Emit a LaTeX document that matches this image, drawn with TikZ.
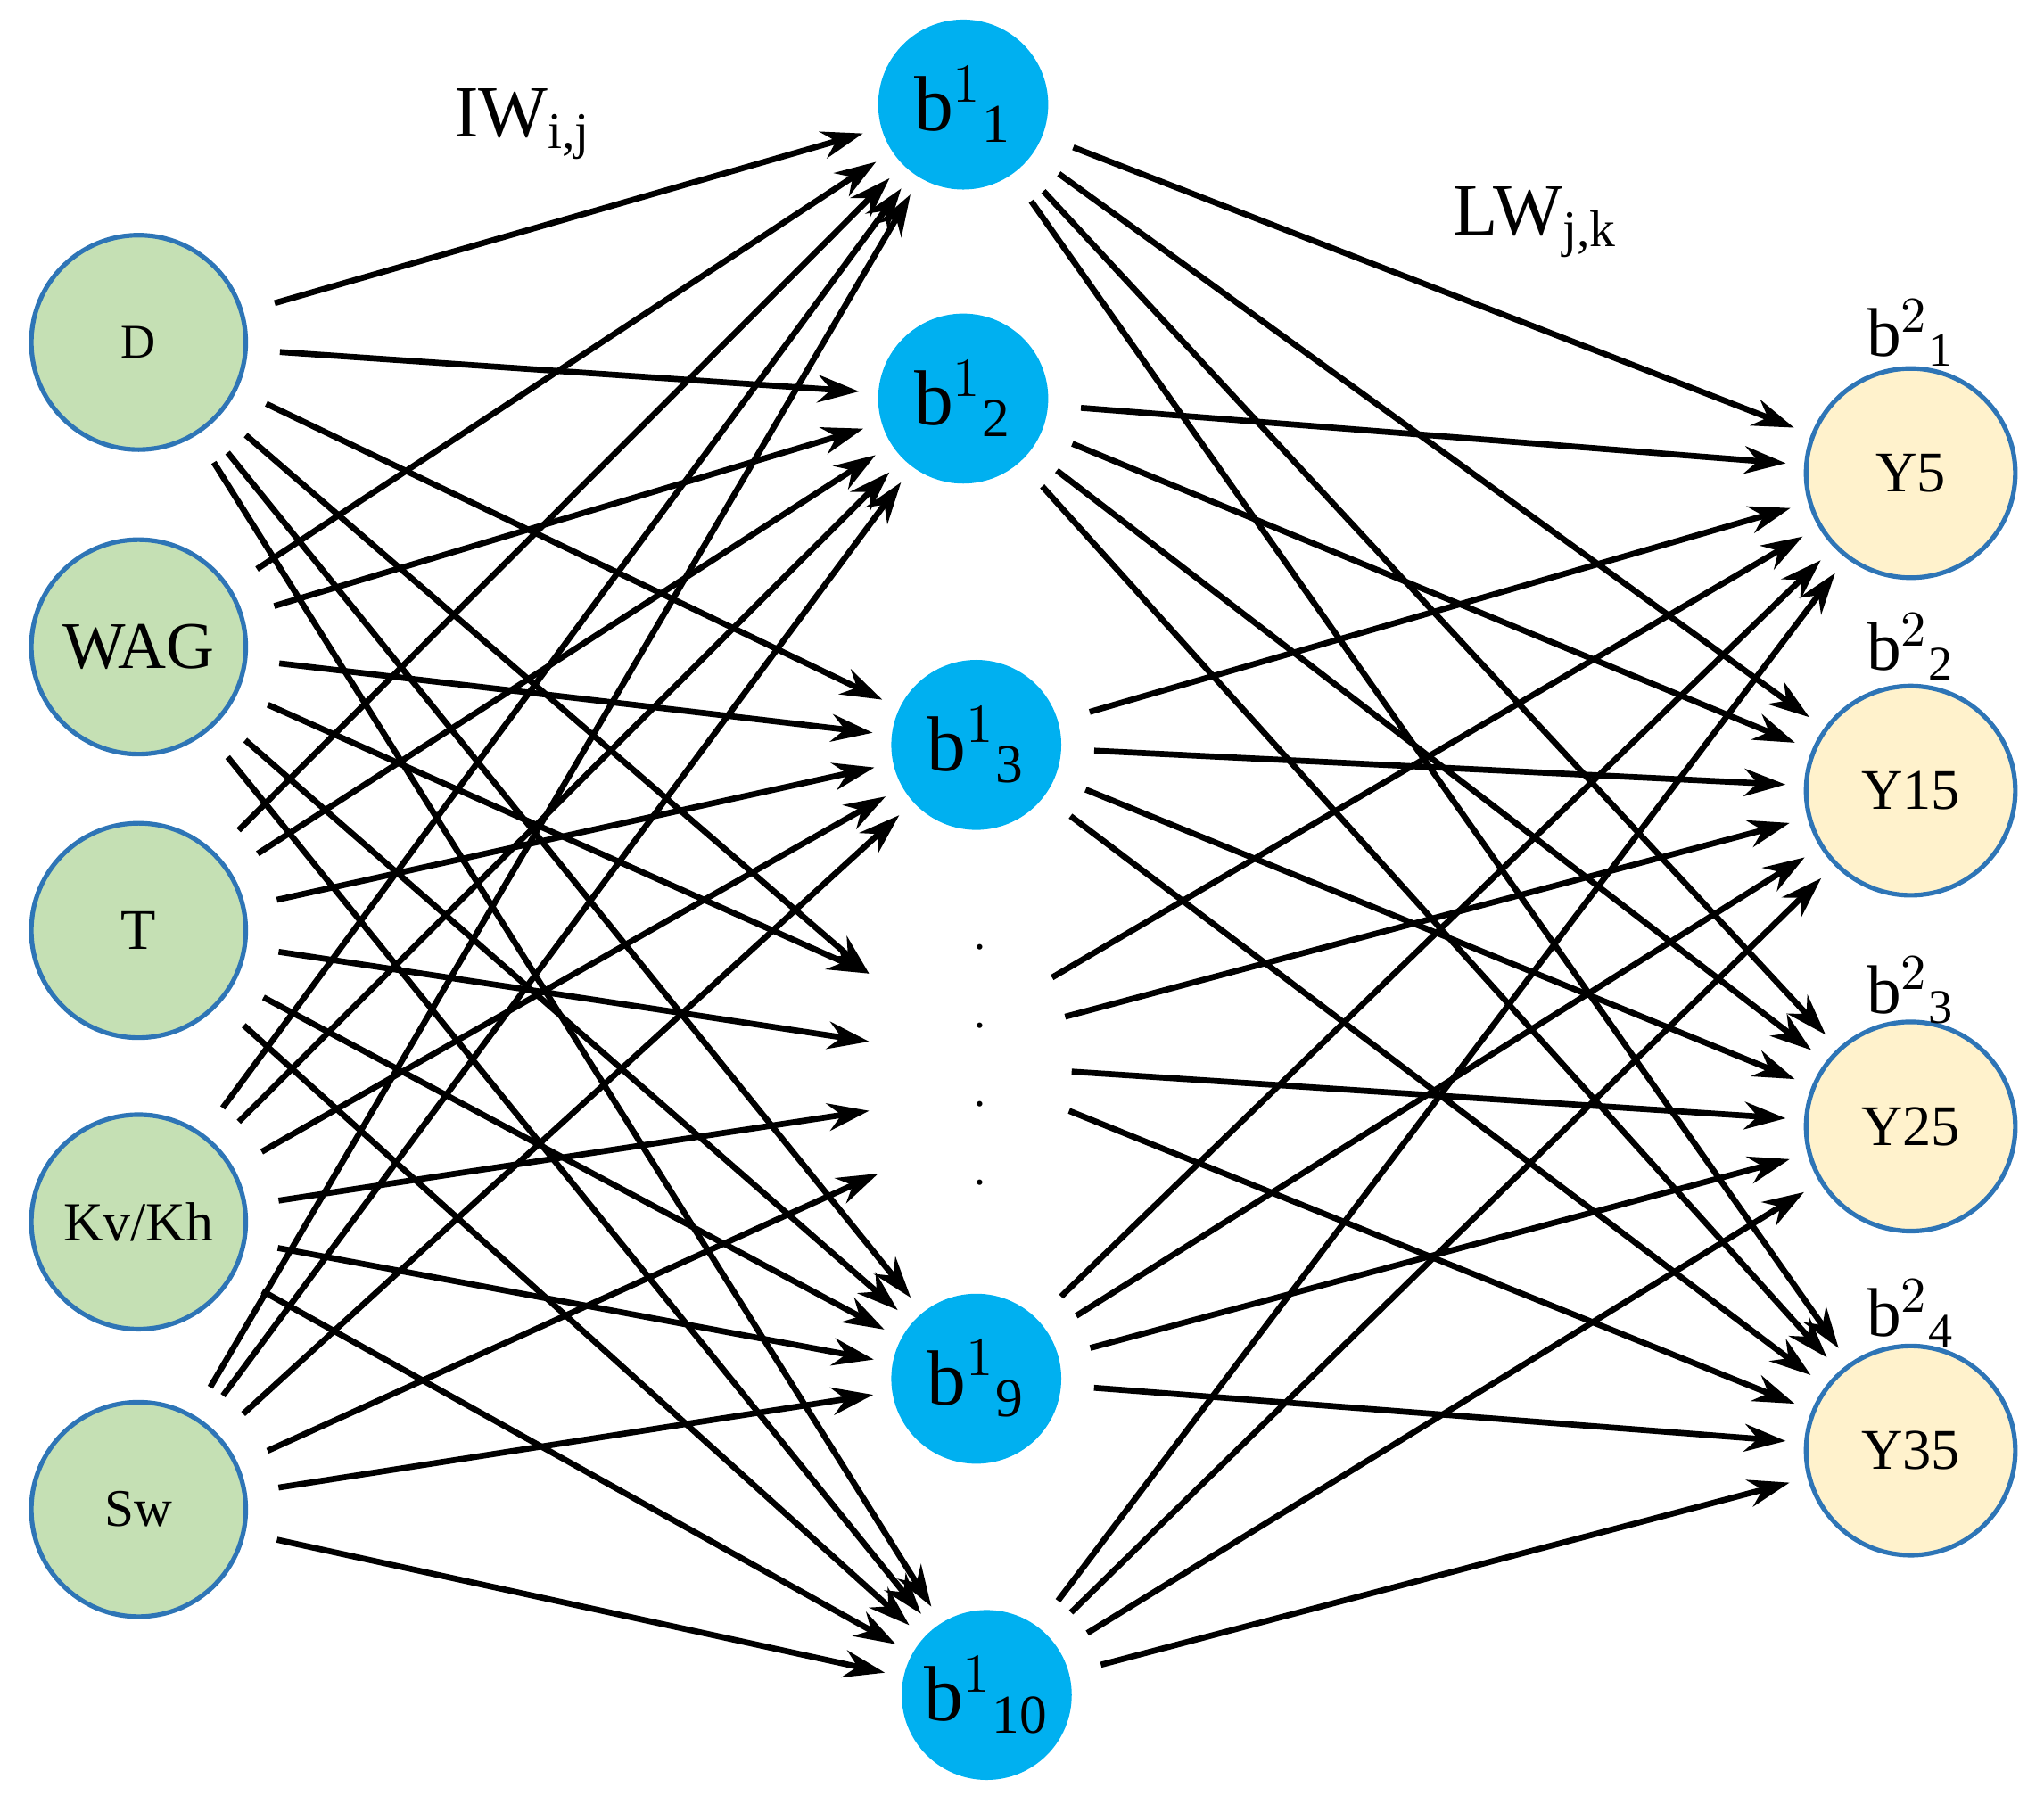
\documentclass[tikz,border=0pt]{standalone}
\usepackage{fontspec}
\setmainfont{Liberation Serif}
\usetikzlibrary{arrows.meta}
\definecolor{gr}{RGB}{197,224,180}
\definecolor{bd}{RGB}{46,117,182}
\definecolor{hb}{RGB}{0,176,240}
\definecolor{cr}{RGB}{255,242,204}
\begin{document}
\begin{tikzpicture}[x=0.01cm,y=-0.01cm,
  inp/.style={circle,fill=gr,draw=bd,line width=1pt,minimum size=1.64cm,inner sep=0pt},
  hid/.style={circle,fill=hb,minimum size=1.3cm,inner sep=0pt,font=\fontsize{17}{19}\selectfont},
  outn/.style={circle,fill=cr,draw=bd,line width=1pt,minimum size=1.6cm,inner sep=0pt,font=\fontsize{12.5}{15}\selectfont},
  ar/.style={line width=1.3pt,-{Stealth[length=9pt,width=6pt]},shorten <=7pt,shorten >=4pt}]
\useasboundingbox (0,0) rectangle (1564,1374);
\node[inp,font=\fontsize{10.5}{13}\selectfont] (i1) at (106,262) {D};
\node[inp,font=\fontsize{14.5}{17}\selectfont] (i2) at (106,495) {WAG};
\node[inp,font=\fontsize{12.5}{15}\selectfont] (i3) at (106,712) {T};
\node[inp,font=\fontsize{12}{15}\selectfont] (i4) at (106,935) {Kv/Kh};
\node[inp,font=\fontsize{11.5}{14}\selectfont] (i5) at (106,1155) {Sw};
\node[hid] (h1) at (737,80) {b$^1$\textsubscript{1}};
\node[hid] (h2) at (737,305) {b$^1$\textsubscript{2}};
\node[hid] (h3) at (747,570) {b$^1$\textsubscript{3}};
\node[hid] (h4) at (747,1055) {b$^1$\textsubscript{9}};
\node[hid] (h5) at (755,1297) {b$^1$\textsubscript{10}};
\foreach \y [count=\k] in {725,785,845,905} \node (dot\k) at (750,\y) {.};
\node[outn] (o1) at (1462,362) {Y5};
\node[outn] (o2) at (1462,605) {Y15};
\node[outn] (o3) at (1462,862) {Y25};
\node[outn] (o4) at (1462,1110) {Y35};
\foreach \y/\k in {255/1,495/2,758/3,1005/4}
  \node[font=\fontsize{15}{17}\selectfont] (bl\k) at (1462,\y) {b$^2$\textsubscript{\k}};
\node[font=\fontsize{16}{18}\selectfont] (iw) at (400,95) {IW\textsubscript{i,j}};
\node[font=\fontsize{16}{18}\selectfont] (lw) at (1175,170) {LW\textsubscript{j,k}};
\coordinate (ei1) at (665,745);
\coordinate (ei2) at (665,745);
\coordinate (ei3) at (665,797);
\coordinate (ei4) at (665,850);
\coordinate (ei5) at (672,898);
\coordinate (s1) at (805,748);
\coordinate (s2) at (815,778);
\coordinate (s3) at (820,820);
\coordinate (s4) at (818,850);
\foreach \i in {1,...,5}{
  \foreach \j in {1,...,5} \draw[ar] (i\i) -- (h\j);
  \draw[ar,shorten >=0pt] (i\i) -- (ei\i);
  \foreach \k in {1,...,4} \draw[ar] (h\i) -- (o\k);
}
\foreach \k in {1,...,4} \draw[ar,shorten <=0pt] (s\k) -- (o\k);
\end{tikzpicture}
\end{document}
